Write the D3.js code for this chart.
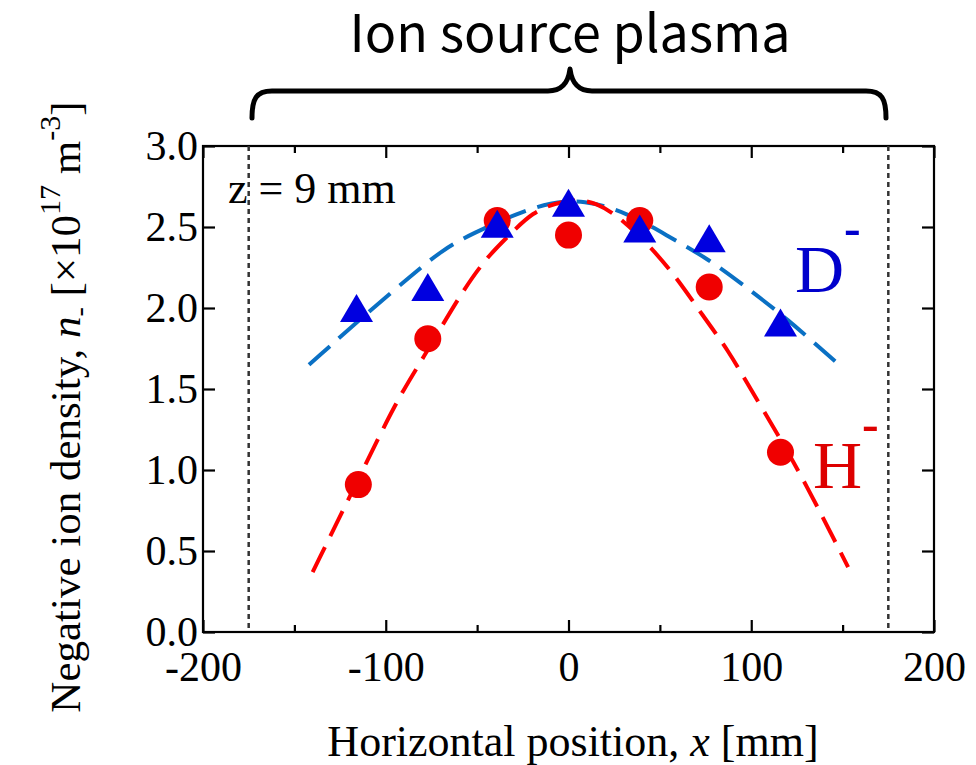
<!DOCTYPE html>
<html>
<head>
<meta charset="utf-8">
<script src="https://cdn.jsdelivr.net/npm/d3@7"></script>
<style>
  html, body { margin: 0; padding: 0; background: #fff; }
  svg { display: block; }
</style>
</head>
<body>
<svg id="chart" width="976" height="765"></svg>
<script>
// Measured negative ion densities [x mm, n- in 1e17 m^-3]
const hMinus = [[-115, 0.91], [-77, 1.81], [-39, 2.54], [0, 2.45], [39, 2.54], [77, 2.13], [116, 1.11]];
const dMinus = [[-116, 2.00], [-77, 2.13], [-39, 2.52], [0, 2.65], [39, 2.49], [77, 2.43], [116, 1.91]];

// Fitted profiles (dashed curves)
const hFit = [[-140, 0.37], [-116, 0.92], [-93.6, 1.44], [-80, 1.68], [-61, 2.05], [-46, 2.30], [-30.6, 2.47],
              [-19.7, 2.59], [-6.6, 2.65], [5, 2.67], [15, 2.65], [27, 2.57], [44, 2.39], [59, 2.19],
              [73, 1.96], [88, 1.73], [100, 1.49], [124.8, 1.03], [153, 0.40]];
const dFit = [[-142, 1.65], [-106, 2.01], [-87, 2.19], [-69, 2.36], [-52.5, 2.46], [-27, 2.59], [-10, 2.65],
              [8, 2.67], [32, 2.59], [55, 2.44], [77, 2.30], [97, 2.13], [119, 1.94], [147, 1.66]];

// Boundaries of the ion source plasma
const boundaries = [-175, 175];

const xTicks = [-200, -100, 0, 100, 200];
const xMinorTicks = [-150, -50, 50, 150];
const yTicks = [0, 0.5, 1.0, 1.5, 2.0, 2.5, 3.0];

const svg = d3.select("#chart");
const L = 203, R = 934, T = 146, B = 632;
const x = d3.scaleLinear().domain([-200, 200]).range([L, R]);
const y = d3.scaleLinear().domain([0, 3]).range([B, T]);

const serif = "'Liberation Serif', 'Times New Roman', serif";

// Title and brace
svg.append("text")
  .attr("x", 570).attr("y", 52)
  .attr("text-anchor", "middle")
  .attr("font-family", "'Noto Sans CJK JP', 'Noto Sans', sans-serif")
  .attr("font-size", 52)
  .attr("fill", "#000")
  .text("Ion source plasma");

svg.append("path")
  .attr("d", "M252,118 C252,99 256,91 272,91 L548,91 C561,91 568,84 570,69 C572,84 579,91 592,91 L866,91 C882,91 886,99 886,118")
  .attr("fill", "none").attr("stroke", "#000").attr("stroke-width", 5)
  .attr("stroke-linecap", "round").attr("stroke-linejoin", "round");

// Plot frame
svg.append("rect")
  .attr("x", L).attr("y", T).attr("width", R - L).attr("height", B - T)
  .attr("fill", "none").attr("stroke", "#000").attr("stroke-width", 2.2);

// Axes with inward ticks
const fmtX = d => String(d);
const gx = svg.append("g").attr("transform", `translate(0,${B})`)
  .call(d3.axisBottom(x).tickValues(xTicks).tickFormat(fmtX).tickSizeInner(-12).tickSizeOuter(0).tickPadding(19));
const gxTop = svg.append("g").attr("transform", `translate(0,${T})`)
  .call(d3.axisTop(x).tickValues(xTicks).tickFormat("").tickSizeInner(-12).tickSizeOuter(0));
const gxm = svg.append("g").attr("transform", `translate(0,${B})`)
  .call(d3.axisBottom(x).tickValues(xMinorTicks).tickFormat("").tickSizeInner(-7).tickSizeOuter(0));
const gxmTop = svg.append("g").attr("transform", `translate(0,${T})`)
  .call(d3.axisTop(x).tickValues(xMinorTicks).tickFormat("").tickSizeInner(-7).tickSizeOuter(0));
const gy = svg.append("g").attr("transform", `translate(${L},0)`)
  .call(d3.axisLeft(y).tickValues(yTicks).tickFormat(d3.format(".1f")).tickSizeInner(-12).tickSizeOuter(0).tickPadding(5));
const gyR = svg.append("g").attr("transform", `translate(${R},0)`)
  .call(d3.axisRight(y).tickValues(yTicks).tickFormat("").tickSizeInner(-12).tickSizeOuter(0));

[gx, gxTop, gxm, gxmTop, gy, gyR].forEach(g => {
  g.select(".domain").remove();
  g.selectAll(".tick line").attr("stroke", "#000").attr("stroke-width", 2.2);
  g.selectAll(".tick text")
    .attr("font-family", serif).attr("font-size", 42).attr("fill", "#000");
});

// Plasma boundary lines
svg.append("g").selectAll("line").data(boundaries).join("line")
  .attr("x1", d => x(d)).attr("x2", d => x(d))
  .attr("y1", T).attr("y2", B)
  .attr("stroke", "#333").attr("stroke-width", 2.5).attr("stroke-dasharray", "5,4");

svg.append("text")
  .attr("x", 228).attr("y", 203)
  .attr("font-family", serif).attr("font-size", 44).attr("fill", "#000")
  .text("z = 9 mm");

// Fitted curves
const line = d3.line().x(d => x(d[0])).y(d => y(d[1])).curve(d3.curveBasis);
svg.append("path").datum(dFit)
  .attr("d", line).attr("fill", "none")
  .attr("stroke", "#0a70c4").attr("stroke-width", 4).attr("stroke-dasharray", "28,12");
svg.append("path").datum(hFit)
  .attr("d", line).attr("fill", "none")
  .attr("stroke", "#ff0000").attr("stroke-width", 4).attr("stroke-dasharray", "28,12");

// Markers
svg.append("g").selectAll("circle").data(hMinus).join("circle")
  .attr("cx", d => x(d[0])).attr("cy", d => y(d[1])).attr("r", 13.5)
  .attr("fill", "#f00000");

const triW = 33, triH = 28;
svg.append("g").selectAll("path").data(dMinus).join("path")
  .attr("d", d => {
    const cx = x(d[0]), cy = y(d[1]);
    return `M${cx},${cy - triH / 2} L${cx + triW / 2},${cy + triH / 2} L${cx - triW / 2},${cy + triH / 2} Z`;
  })
  .attr("fill", "#0000e0");

// Species labels
const dLab = svg.append("text").attr("x", 795).attr("y", 292)
  .attr("font-family", serif).attr("font-size", 68).attr("fill", "#0000cc");
dLab.append("tspan").text("D");
dLab.append("tspan").attr("font-size", 50).attr("font-weight", "bold").attr("dy", -47).text("-");

const hLab = svg.append("text").attr("x", 813).attr("y", 488)
  .attr("font-family", serif).attr("font-size", 68).attr("fill", "#dd0000");
hLab.append("tspan").text("H");
hLab.append("tspan").attr("font-size", 50).attr("font-weight", "bold").attr("dy", -47).text("-");

// Axis titles
const xt = svg.append("text").attr("x", 573).attr("y", 756)
  .attr("text-anchor", "middle")
  .attr("font-family", serif).attr("font-size", 44).attr("fill", "#000");
xt.append("tspan").text("Horizontal position, ");
xt.append("tspan").attr("font-style", "italic").text("x");
xt.append("tspan").text(" [mm]");

const yt = svg.append("text")
  .attr("transform", "translate(80,407) rotate(-90)")
  .attr("text-anchor", "middle")
  .attr("font-family", serif).attr("font-size", 43).attr("fill", "#000");
yt.append("tspan").text("Negative ion density, ");
yt.append("tspan").attr("font-style", "italic").text("n");
yt.append("tspan").attr("font-size", 28).attr("dy", 8).text("-");
yt.append("tspan").attr("dy", -8).text(" [×10");
yt.append("tspan").attr("font-size", 30).attr("dy", -20).text("17");
yt.append("tspan").attr("dy", 20).text(" m");
yt.append("tspan").attr("font-size", 30).attr("dy", -20).text("-3");
yt.append("tspan").attr("dy", 20).text("]");
</script>
</body>
</html>
